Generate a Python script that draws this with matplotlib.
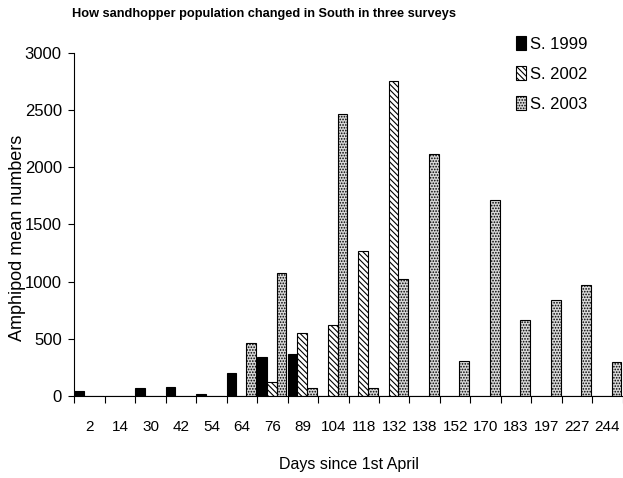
import numpy as np
import matplotlib
matplotlib.use('Agg')
from matplotlib import pyplot as plt

plt.rcParams['font.family'] = ['Liberation Sans', 'DejaVu Sans']
plt.rcParams['hatch.linewidth'] = 0.8

days = ['2', '14', '30', '42', '54', '64', '76', '89', '104', '118', '132',
        '138', '152', '170', '183', '197', '227', '244']
s1999 = [46, 0, 67, 79, 15, 198, 344, 364, 0, 0, 0, 0, 0, 0, 0, 0, 0, 0]
s2002 = [0, 0, 0, 0, 0, 0, 120, 553, 618, 1270, 2753, 0, 0, 0, 0, 0, 0, 0]
s2003 = [0, 0, 0, 0, 0, 461, 1073, 67, 2465, 67, 1020, 2113, 309, 1713, 664, 839, 970, 300]

fig = plt.figure(figsize=(6.23, 4.78), dpi=100)
ax = fig.add_axes([74.3 / 623, 82 / 478, 548.4 / 623, 343.3 / 478])

x = np.arange(len(days))
w = 0.32
ax.bar(x - w - 0.02, s1999, w, color='black', edgecolor='black', linewidth=0.8, label='S. 1999')
ax.bar(x - 0.02, s2002, w, color='white', edgecolor='black', linewidth=0.8,
       hatch='\\\\\\\\\\\\', label='S. 2002')
ax.bar(x + w - 0.02, s2003, w, color='#d8d8d8', edgecolor='black', linewidth=0.8,
       hatch='......', label='S. 2003')

ax.set_xlim(-0.5, len(days) - 0.5)
ax.set_ylim(0, 3000)
ax.set_yticks(np.arange(0, 3001, 500))
ax.tick_params(axis='y', direction='out', length=4, width=0.8, pad=5, labelsize=12)

# tick marks at the category borders, labels in the middle
ax.set_xticks(np.arange(-0.5, len(days), 1.0))
ax.set_xticklabels([])
ax.tick_params(axis='x', which='major', direction='out', length=5, width=0.8)
ax.set_xticks(x, minor=True)
ax.set_xticklabels(days, minor=True)
ax.tick_params(axis='x', which='minor', length=0, pad=17, labelsize=11)

for s in ['top', 'right']:
    ax.spines[s].set_visible(False)
ax.spines['left'].set_linewidth(0.8)
ax.spines['bottom'].set_linewidth(0.8)

ax.set_ylabel('Amphipod mean numbers', fontsize=13)
ax.yaxis.set_label_coords(-0.088, 0.46)
ax.set_xlabel('Days since 1st April', fontsize=11.5)
ax.xaxis.set_label_coords(0.5, -0.178)

fig.text(264 / 623, 1 - 14 / 478, 'How sandhopper population changed in South in three surveys',
         ha='center', va='center', fontsize=9.2, fontweight='bold')

fig.legend(loc='upper left', bbox_to_anchor=(508 / 623, 1 - 28 / 478), frameon=False,
           fontsize=12, handlelength=0.55, handleheight=0.9, handletextpad=0.3,
           labelspacing=0.85, borderpad=0)

fig.savefig('out.png', dpi=100)
